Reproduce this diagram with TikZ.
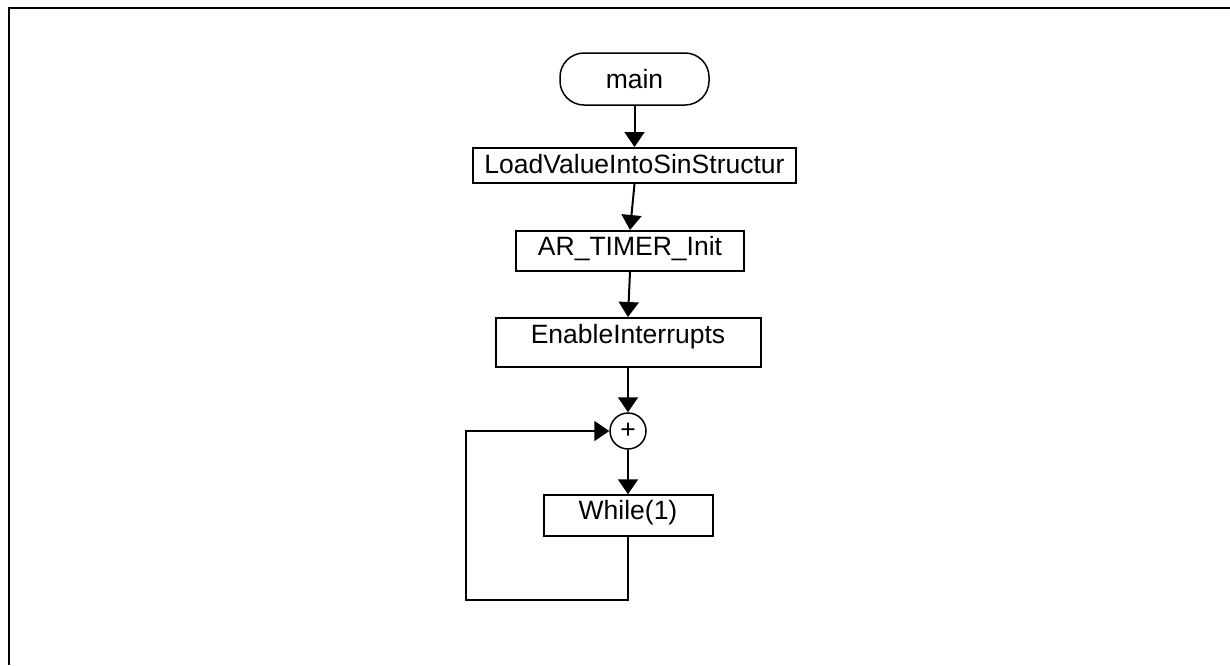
\documentclass[tikz,border=0pt]{standalone}
\usepackage{fontspec}
\setmainfont{Liberation Sans}
\usetikzlibrary{arrows.meta}

\begin{document}
\begin{tikzpicture}[x=0.5pt,y=-0.5pt,
	every node/.style={font=\fontsize{13.25}{15}\selectfont},
	proc/.style={draw,line width=1pt,inner sep=0pt,rectangle},
	term/.style={draw,line width=0.75pt,rectangle,rounded corners=12pt,minimum width=74.5pt,minimum height=26pt,inner sep=0pt},
	junction/.style={draw,line width=0.75pt,circle,minimum size=18pt,inner sep=0pt},
	arr/.style={-{Triangle[length=7.5pt,width=10pt]},line width=1pt},
	]
	\useasboundingbox (0,0) rectangle (1230,665);
	%frame
	\draw [line width=1pt] (9,665) -- (9,8) -- (1230,8);
	%draw nodes
	\node[term] (main) at (634.5,79) {main};
	\node[proc,minimum width=161.5pt,text height=12.5pt,text depth=5pt] (load) at (634.5,165.5) {LoadValueIntoSinStructur};
	\node[proc,minimum width=114pt,text height=12pt,text depth=8pt] (timer) at (630,251) {AR\_TIMER\_Init};
	\node[proc,minimum width=132.5pt,text height=12.5pt,text depth=12pt] (enable) at (628,342.5) {EnableInterrupts};
	\node[junction] (plus) at (628,431) {+};
	\node[proc,minimum width=84.5pt,text height=12pt,text depth=8.25pt] (while) at (628,515.5) {While(1)};
	\coordinate (loopbl) at (466,600);
	%connectors
	\draw[arr] (main.south) -- (load.north);
	\draw[arr] (load.south) -- (timer.north);
	\draw[arr] (timer.south) -- (enable.north);
	\draw[arr] (enable.south) -- (plus.north);
	\draw[arr] (plus.south) -- (while.north);
	\draw[arr] (while.south) |- (loopbl) |- (plus.west);
\end{tikzpicture}
\end{document}
